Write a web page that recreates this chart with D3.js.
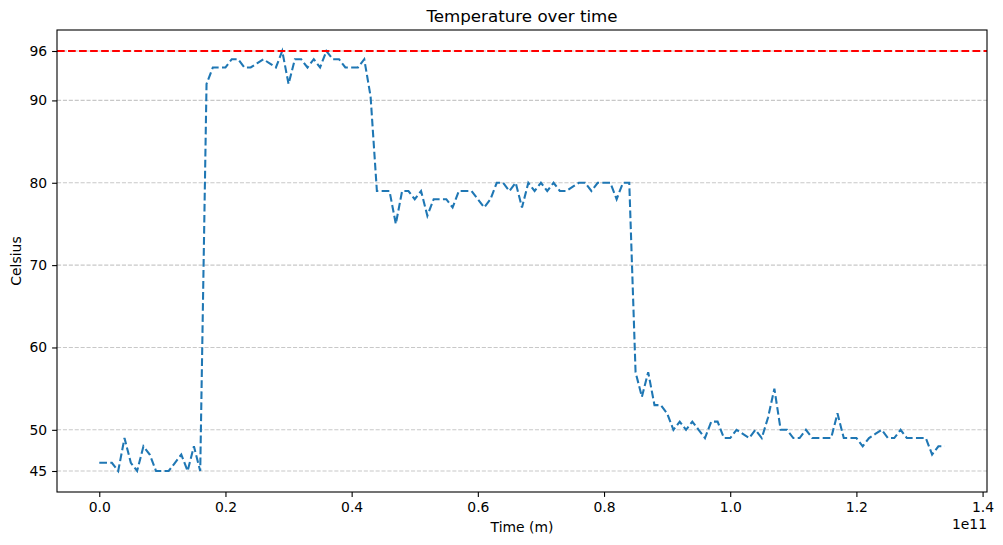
<!DOCTYPE html>
<html>
<head>
<meta charset="utf-8">
<script src="https://cdn.jsdelivr.net/npm/d3@7"></script>
<style>
  html, body { margin: 0; padding: 0; background: #fff; }
  svg { display: block; font-family: "DejaVu Sans", sans-serif; }
</style>
</head>
<body>
<svg id="chart" width="1003" height="545"></svg>
<script>
// ---- data (time in raw units, shown with 1e11 offset) ----
const times = [
  0e9,1e9,2e9,3e9,4e9,5e9,6e9,7e9,8e9,9e9,10e9,11e9,12e9,13e9,14e9,15e9,16e9,17e9,18e9,19e9,
  20e9,21e9,22e9,23e9,24e9,25e9,26e9,27e9,28e9,29e9,30e9,31e9,32e9,33e9,34e9,35e9,36e9,37e9,38e9,39e9,
  40e9,41e9,42e9,43e9,44e9,45e9,46e9,47e9,48e9,49e9,50e9,51e9,52e9,53e9,54e9,55e9,56e9,57e9,58e9,59e9,
  60e9,61e9,62e9,63e9,64e9,65e9,66e9,67e9,68e9,69e9,70e9,71e9,72e9,73e9,74e9,75e9,76e9,77e9,78e9,79e9,
  80e9,81e9,82e9,83e9,84e9,85e9,86e9,87e9,88e9,89e9,90e9,91e9,92e9,93e9,94e9,95e9,96e9,97e9,98e9,99e9,
  100e9,101e9,102e9,103e9,104e9,105e9,106e9,107e9,108e9,109e9,110e9,111e9,112e9,113e9,114e9,115e9,116e9,117e9,118e9,119e9,
  120e9,121e9,122e9,123e9,124e9,125e9,126e9,127e9,128e9,129e9,130e9,131e9,132e9,133e9,134e9
];
const temps = [
  46,46,46,45,49,46,45,48,47,45,45,45,46,47,45,48,45,92,94,94,
  94,95,95,94,94,94.5,95,94.5,94,96,92,95,95,94,95,94,96,95,95,94,
  94,94,95,90.5,79,79,79,75,79,79,78,79,76,78,78,78,77,79,79,79,
  78,77,78,80,80,79,80,77,80,79,80,79,80,79,79,79.5,80,80,79,80,
  80,80,78,80,80,57,54,57,53,53,52,50,51,50,51,50,49,51,51,49,
  49,50,49.5,49,50,49,51.5,55,50,50,49,49,50,49,49,49,49,52,49,49,
  49,48,49,49.5,50,49,49,50,49,49,49,49,47,48,48
];
const threshold = 96;
const yTicks = [45, 50, 60, 70, 80, 90, 96];
const xTicks = [0, 0.2e11, 0.4e11, 0.6e11, 0.8e11, 1.0e11, 1.2e11, 1.4e11];
const xTickLabels = ["0.0","0.2","0.4","0.6","0.8","1.0","1.2","1.4"];
const offsetText = "1e11";
const titleText = "Temperature over time";
const xLabelText = "Time (m)";
const yLabelText = "Celsius";

// ---- layout ----
const L = 57, R = 987, T = 30, B = 492;
const svg = d3.select("#chart");

const xMin = d3.min(times), xMax = d3.max(times);
const xPad = (xMax - xMin) * 0.05;
const yMin = Math.min(d3.min(temps), threshold), yMax = Math.max(d3.max(temps), threshold);
const yPad = (yMax - yMin) * 0.05;

const x = d3.scaleLinear().domain([xMin - xPad, xMax + xPad]).range([L, R]);
const y = d3.scaleLinear().domain([yMin - yPad, yMax + yPad]).range([B, T]);

svg.append("defs").append("clipPath").attr("id", "clip")
  .append("rect").attr("x", L).attr("y", T).attr("width", R - L).attr("height", B - T);

// grid (y only)
svg.append("g").selectAll("line").data(yTicks).join("line")
  .attr("x1", L).attr("x2", R)
  .attr("y1", d => y(d)).attr("y2", d => y(d))
  .attr("stroke", "#b0b0b0").attr("stroke-opacity", 0.7)
  .attr("stroke-width", 1.1).attr("stroke-dasharray", "4.1,1.8");

// data line
const line = d3.line().x((d, i) => x(times[i])).y(d => y(d));
svg.append("path").datum(temps)
  .attr("clip-path", "url(#clip)")
  .attr("d", line)
  .attr("fill", "none").attr("stroke", "#1f77b4")
  .attr("stroke-width", 2.08).attr("stroke-dasharray", "7.7,3.33");

// threshold line
svg.append("line")
  .attr("x1", L).attr("x2", R)
  .attr("y1", y(threshold)).attr("y2", y(threshold))
  .attr("stroke", "#ff0000").attr("stroke-width", 2.08).attr("stroke-dasharray", "7.7,3.33");

// axes
const xAxis = d3.axisBottom(x).tickValues(xTicks)
  .tickFormat((d, i) => xTickLabels[i]).tickSize(4.9).tickPadding(4.9);
const yAxis = d3.axisLeft(y).tickValues(yTicks)
  .tickFormat(d3.format("d")).tickSize(4.9).tickPadding(4.9);

const gx = svg.append("g").attr("transform", `translate(0,${B})`).call(xAxis);
const gy = svg.append("g").attr("transform", `translate(${L},0)`).call(yAxis);
[gx, gy].forEach(g => {
  g.select(".domain").remove();
  g.selectAll(".tick line").attr("stroke", "#000").attr("stroke-width", 1.1);
  g.selectAll(".tick text").attr("fill", "#000")
    .style("font-family", "DejaVu Sans").style("font-size", "13.9px");
});

// frame
svg.append("rect").attr("x", L).attr("y", T).attr("width", R - L).attr("height", B - T)
  .attr("fill", "none").attr("stroke", "#000").attr("stroke-width", 1.1);

// texts
svg.append("text").attr("x", (L + R) / 2).attr("y", T - 8.5)
  .attr("text-anchor", "middle").style("font-size", "16.7px").text(titleText);
svg.append("text").attr("x", (L + R) / 2).attr("y", 532)
  .attr("text-anchor", "middle").style("font-size", "13.9px").text(xLabelText);
svg.append("text").attr("transform", `translate(21,${(T + B) / 2}) rotate(-90)`)
  .attr("text-anchor", "middle").style("font-size", "13.9px").text(yLabelText);
svg.append("text").attr("x", R).attr("y", 529)
  .attr("text-anchor", "end").style("font-size", "13.9px").text(offsetText);
</script>
</body>
</html>
